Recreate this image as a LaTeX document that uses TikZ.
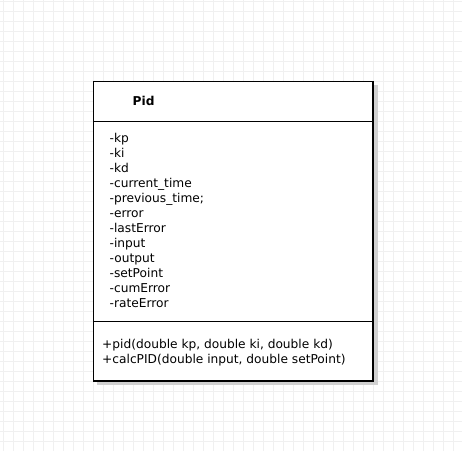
\documentclass[tikz,border=0pt]{standalone}
\usepackage{fontspec}
\setmainfont{DejaVu Sans}
\begin{document}
\begin{tikzpicture}[x=1pt,y=-1pt,
  gridline/.style={draw=black!6,line width=1pt},
  classbox/.style={draw=black,line width=1.2pt,fill=white},
  shadowbox/.style={fill=black!18,draw=none},
  membertext/.style={anchor=base west,inner sep=0pt,font=\fontsize{12.2pt}{15pt}\selectfont},
  titletext/.style={anchor=base west,inner sep=0pt,font=\fontsize{12.2pt}{15pt}\selectfont\bfseries}]
\useasboundingbox (0,0) rectangle (462,451);
\fill[white] (0,0) rectangle (462,451);
% grid
\foreach \gx in {3,13,...,463} {\draw[gridline] (\gx,0) -- (\gx,451);}
\foreach \gy in {1.5,11.5,...,451} {\draw[gridline] (0,\gy) -- (462,\gy);}
% shadow
\fill[shadowbox] (97,85) rectangle (377.5,385);
% class box
\coordinate (tl) at (93.5,81.5);
\coordinate (br) at (373,381);
\draw[classbox] (tl) rectangle (br);
\coordinate (d1l) at (93.5,121.5);
\coordinate (d1r) at (373,121.5);
\coordinate (d2l) at (93.5,321.5);
\coordinate (d2r) at (373,321.5);
\draw[line width=1.2pt] (d1l) -- (d1r);
\draw[line width=1.2pt] (d2l) -- (d2r);
% title
\node[titletext] (title) at (132.5,105) {Pid};
% attributes
\node[membertext] (a1) at (109.5,142) {-kp};
\node[membertext] (a2) at (109.5,157.1) {-ki};
\node[membertext] (a3) at (109.5,172.2) {-kd};
\node[membertext] (a4) at (109.5,187.2) {-current\_time};
\node[membertext] (a5) at (109.5,202.3) {-previous\_time;};
\node[membertext] (a6) at (109.5,217.4) {-error};
\node[membertext] (a7) at (109.5,232.5) {-lastError};
\node[membertext] (a8) at (109.5,247.6) {-input};
\node[membertext] (a9) at (109.5,262.6) {-output};
\node[membertext] (a10) at (109.5,277.7) {-setPoint};
\node[membertext] (a11) at (109.5,292.8) {-cumError};
\node[membertext] (a12) at (109.5,307.9) {-rateError};
% methods
\node[membertext] (m1) at (102,348.3) {+pid(double kp, double ki, double kd)};
\node[membertext] (m2) at (102,363.3) {+calcPID(double input, double setPoint)};
\end{tikzpicture}
\end{document}
